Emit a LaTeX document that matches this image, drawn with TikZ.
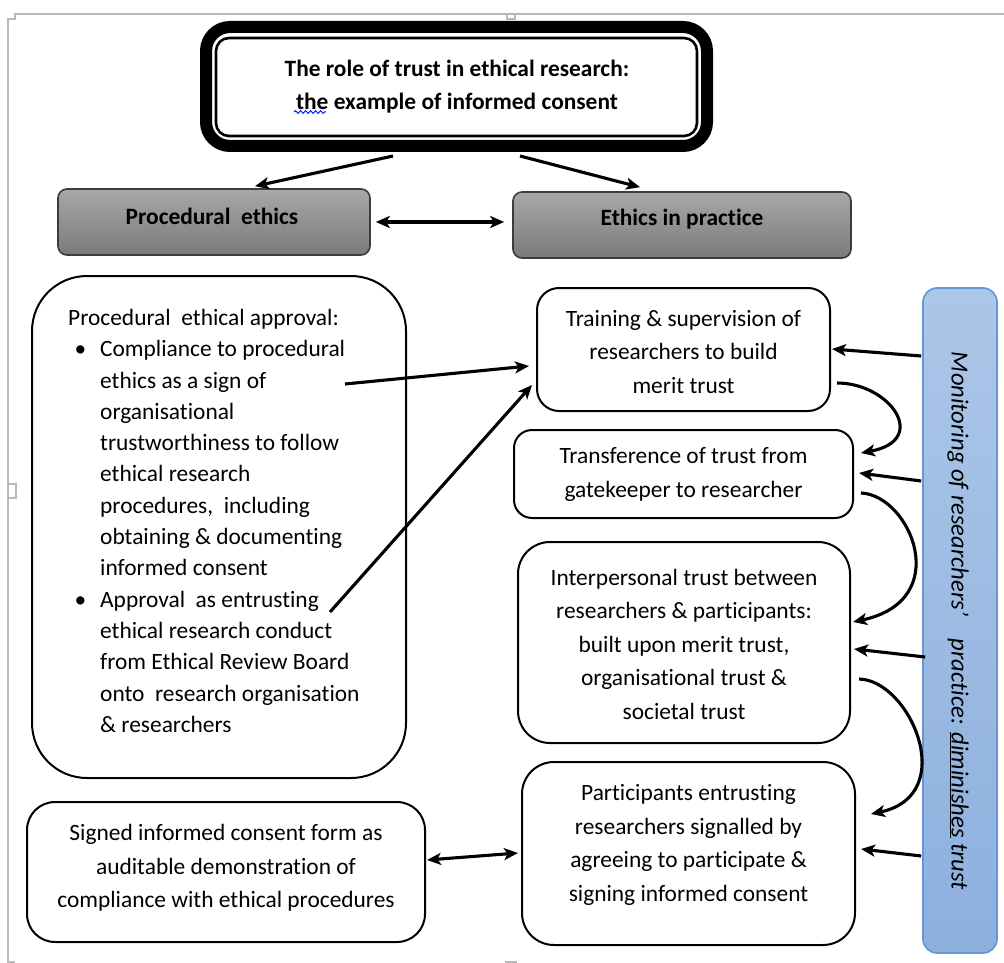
\documentclass[tikz,border=0pt]{standalone}
\usepackage{fontspec}
\setmainfont{Carlito}[Ligatures={NoCommon}]
\usetikzlibrary{arrows.meta,calc,decorations.pathmorphing}
\newcommand\mybody{\fontsize{23.4}{33.5}\selectfont}
\newcommand\myleft{\fontsize{23.4}{31.3}\selectfont}
\definecolor{pagegray}{RGB}{185,185,185}
\definecolor{greytop}{RGB}{168,168,168}
\definecolor{greybot}{RGB}{122,122,122}
\definecolor{bluetop}{RGB}{172,198,232}
\definecolor{bluebot}{RGB}{140,176,222}
\definecolor{blueedge}{RGB}{100,150,212}
\begin{document}
\begin{tikzpicture}[x=1pt,y=-1pt,
  box/.style={draw=black, line width=2, rounded corners=#1, inner sep=0},
  box/.default=20,
  greybox/.style={draw={rgb,255:red,60;green,60;blue,60}, line width=1.6, rounded corners=9,
    top color=greytop, bottom color=greybot, inner sep=0},
  txt/.style={align=center, inner sep=0, font=\mybody},
  arr/.style={line width=3.1, -{Stealth[length=14,width=12,inset=3.5]}},
  darr/.style={line width=3.1, {Stealth[length=14,width=12,inset=3.5]}-{Stealth[length=14,width=12,inset=3.5]}},
  pagemark/.style={draw=pagegray, line width=1.4}
]
\path[use as bounding box] (0,0) rectangle (1004,963);

% page margin marks
\draw[pagemark] (1004,14) -- (15,14) -- (15,19) -- (8,19) -- (8,962) -- (15,962);
\draw[pagemark] (507,14) -- (507,19) -- (515,19) -- (515,14);
\draw[pagemark] (8,484) -- (16,484) -- (16,498) -- (8,498);
\draw[pagemark] (505,962) -- (517,962);

% title
\node[draw=black, line width=12, rounded corners=24, minimum width=501, minimum height=119, inner sep=0]
  (title) at (456.5,86.5) {};
\node[draw=black, line width=2.6, rounded corners=13, minimum width=481, minimum height=98, inner sep=0]
  (titlein) at (456.5,87) {};
\node[txt, font=\fontsize{23.4}{33}\selectfont\bfseries] (titletext) at (457,87)
  {The role of trust in ethical research:\\the example of informed consent};
\draw[blue!85!cyan, line width=1, decorate, decoration={snake, amplitude=1.4, segment length=5}]
  (294,112) -- (326,112);

% grey boxes
\node[greybox, minimum width=312, minimum height=66] (proc) at (214,222) {};
\node[txt, font=\mybody\bfseries] (proctext) at (212,216) {Procedural\ \ ethics};
\node[greybox, minimum width=338, minimum height=66] (eth) at (682,225) {};
\node[txt, font=\mybody\bfseries] (ethtext) at (682,219) {Ethics in practice};

% left big box
\node[box=55, minimum width=374, minimum height=502] (left) at (219,527) {};
\node[txt, align=left, anchor=north west, font=\myleft] (lefttext) at (68,309)
 {Procedural\ \ ethical approval:\\
  \hspace*{32pt}\llap{\textbullet\hspace{14pt}}Compliance to procedural\\
  \hspace*{32pt}ethics as a sign of\\
  \hspace*{32pt}organisational\\
  \hspace*{32pt}trustworthiness to follow\\
  \hspace*{32pt}ethical research\\
  \hspace*{32pt}procedures,\ \ including\\
  \hspace*{32pt}obtaining \& documenting\\
  \hspace*{32pt}informed consent\\
  \hspace*{32pt}\llap{\textbullet\hspace{14pt}}Approval\ \ as entrusting\\
  \hspace*{32pt}ethical research conduct\\
  \hspace*{32pt}from Ethical Review Board\\
  \hspace*{32pt}onto\ \ research organisation\\
  \hspace*{32pt}\& researchers};
\coordinate (c1) at (345,384);
\coordinate (c2) at (330,612);

% signed box
\node[box=28, minimum width=398, minimum height=140] (signed) at (226,872) {};
\node[txt] (signedtext) at (226,868)
  {Signed informed consent form as\\auditable demonstration of\\compliance with ethical procedures};

% right column
\node[box=22, minimum width=293, minimum height=123] (train) at (683.5,349.5) {};
\node[txt] (traintext) at (683.5,352) {Training \& supervision of\\researchers to build\\merit trust};

\node[box=18, minimum width=339, minimum height=88] (trans) at (683.5,474) {};
\node[txt] (transtext) at (683.5,474.5) {Transference of trust from\\gatekeeper to researcher};

\node[box=32, minimum width=332, minimum height=201] (inter) at (684,642.5) {};
\node[txt] (intertext) at (684,644) {Interpersonal trust between\\researchers \& participants:\\built upon merit trust,\\organisational trust \&\\societal trust};

\node[box=32, minimum width=333, minimum height=183] (part) at (688.5,853.5) {};
\node[txt] (parttext) at (688.5,845) {Participants entrusting\\researchers signalled by\\agreeing to participate \&\\signing informed consent};

% blue bar
\node[draw=blueedge, line width=1.6, rounded corners=14, top color=bluetop, bottom color=bluebot,
  minimum width=74, minimum height=665, inner sep=0] (blue) at (960,620.5) {};
\node[txt, rotate=-90, font=\fontsize{24.6}{30}\selectfont\itshape] (bluetext) at (958,621)
  {Monitoring of researchers’\ \ \ \ practice: \underline{diminishes} trust};

% connectors
\draw[arr] ($(title.south)+(-63.5,4)$) -- ($(proc.north)+(41,-2)$);
\draw[arr] ($(title.south)+(63.5,4)$) -- ($(eth.north)+(-42,-4)$);
\draw[darr] ($(proc.east)+(5,0)$) -- ($(eth.west)+(-8,-3)$);

\draw[arr] (c1) -- ($(train.west)+(-7,16.5)$);
\draw[arr] (c2) -- ($(train.west)+(-4,35.5)$);

\draw[darr] ($(signed.east)+(1,-12)$) -- ($(part.west)+(-3,-0.5)$);

\draw[arr] ($(blue.west)+(-1,-264.5)$) -- ($(train.east)+(1,-0.5)$);
\draw[arr] ($(blue.west)+(-1,-139.5)$) -- ($(trans.east)+(5,-1)$);
\draw[arr] ($(blue.west)+(3,36.5)$) -- ($(inter.east)+(3,6.5)$);
\draw[arr] ($(blue.west)+(-1,235.5)$) -- ($(part.east)+(5,-4.5)$);

\draw[arr] ($(train.east)+(6,33.5)$) .. controls (890,383) and (930,440) .. ($(trans.east)+(7,-21)$);
\draw[arr] ($(trans.east)+(7,19)$) .. controls (910,495) and (955,600) .. ($(inter.east)+(2,-20.5)$);
\draw[arr] ($(inter.east)+(8,36.5)$) .. controls (910,680) and (960,795) .. ($(part.east)+(15,-39.5)$);
\end{tikzpicture}
\end{document}
